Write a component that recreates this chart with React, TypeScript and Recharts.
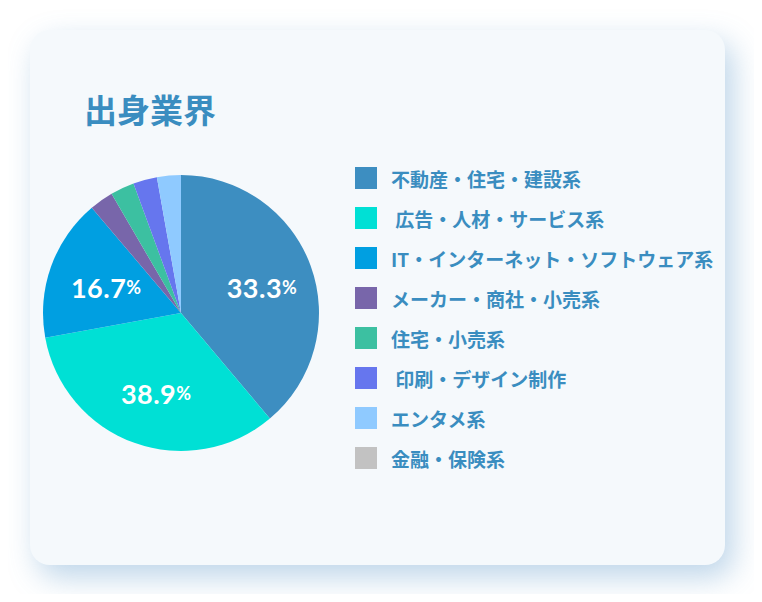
import React from "react";
import { PieChart, Pie, Cell, Legend } from "recharts";

const categories = [
  "不動産・住宅・建設系",
  " 広告・人材・サービス系",
  "IT・インターネット・ソフトウェア系",
  "メーカー・商社・小売系",
  "住宅・小売系",
  " 印刷・デザイン制作",
  "エンタメ系",
  "金融・保険系",
];
const sliceValues = [38.9, 33.3, 16.7, 2.8, 2.8, 2.8, 2.8, 0];
const sliceLabels = ["33.3", "38.9", "16.7", "", "", "", "", ""];
const colors = [
  "#3d8ec1",
  "#00e0d5",
  "#009fe1",
  "#7866aa",
  "#3cc0a1",
  "#6676ee",
  "#8fcaff",
  "#c2c2c2",
];

const data = categories.map((name, i) => ({ name, value: sliceValues[i] }));

const RAD = Math.PI / 180;
const FONT = "'Noto Sans CJK JP', 'Noto Sans', sans-serif";
const TEXT_COLOR = "#3a8dc0";

const renderLabel = (props: any) => {
  const { cx, cy, midAngle, outerRadius, index } = props;
  const txt = sliceLabels[index];
  if (!txt) return null;
  const r = outerRadius * 0.6;
  const x = cx + r * Math.cos(-midAngle * RAD) + 3;
  const y = cy + r * Math.sin(-midAngle * RAD) + 2;
  return (
    <text
      x={x}
      y={y}
      textAnchor="middle"
      dominantBaseline="central"
      fill="#ffffff"
      fontFamily="Lato, 'Noto Sans', sans-serif"
      fontWeight={700}
    >
      <tspan fontSize={27} letterSpacing={0.5}>{txt}</tspan>
      <tspan fontSize={18}>%</tspan>
    </text>
  );
};

const renderLegend = () => (
  <div style={{ fontFamily: FONT }}>
    {categories.map((name, i) => (
      <div
        key={name}
        style={{ display: "flex", alignItems: "center", height: 40 }}
      >
        <div
          style={{
            width: 22,
            height: 22,
            background: colors[i],
            marginRight: 14,
            flexShrink: 0,
          }}
        />
        <span
          style={{
            color: TEXT_COLOR,
            fontSize: 19,
            fontWeight: 700,
            whiteSpace: "pre",
          }}
        >
          {name}
        </span>
      </div>
    ))}
  </div>
);

export default function App() {
  return (
    <div style={{ position: "relative", width: 746, height: 586 }}>
      <div
        style={{
          position: "absolute",
          left: 22,
          top: 22,
          width: 695,
          height: 535,
          borderRadius: 20,
          background: "#f5f9fc",
          boxShadow: "8px 12px 30px rgba(90,150,200,0.4)",
        }}
      >
        <div
          style={{
            position: "absolute",
            left: 54,
            top: 63,
            fontFamily: FONT,
            fontWeight: 700,
            fontSize: 33,
            lineHeight: "33px",
            color: TEXT_COLOR,
          }}
        >
          出身業界
        </div>
        <PieChart
          width={695}
          height={535}
          margin={{ top: 0, right: 0, bottom: 0, left: 0 }}
          style={{ position: "absolute", left: 0, top: 0 }}
        >
          <Pie
            data={data}
            dataKey="value"
            nameKey="name"
            cx={151}
            cy={283}
            outerRadius={138}
            startAngle={90}
            endAngle={-270}
            stroke="none"
            labelLine={false}
            label={renderLabel}
            isAnimationActive={false}
          >
            {data.map((d, i) => (
              <Cell key={d.name} fill={colors[i]} />
            ))}
          </Pie>
          <Legend
            content={renderLegend}
            layout="vertical"
            verticalAlign="middle"
            align="right"
            wrapperStyle={{ position: "absolute", left: 325, top: 128, width: 370 }}
          />
        </PieChart>
      </div>
    </div>
  );
}
